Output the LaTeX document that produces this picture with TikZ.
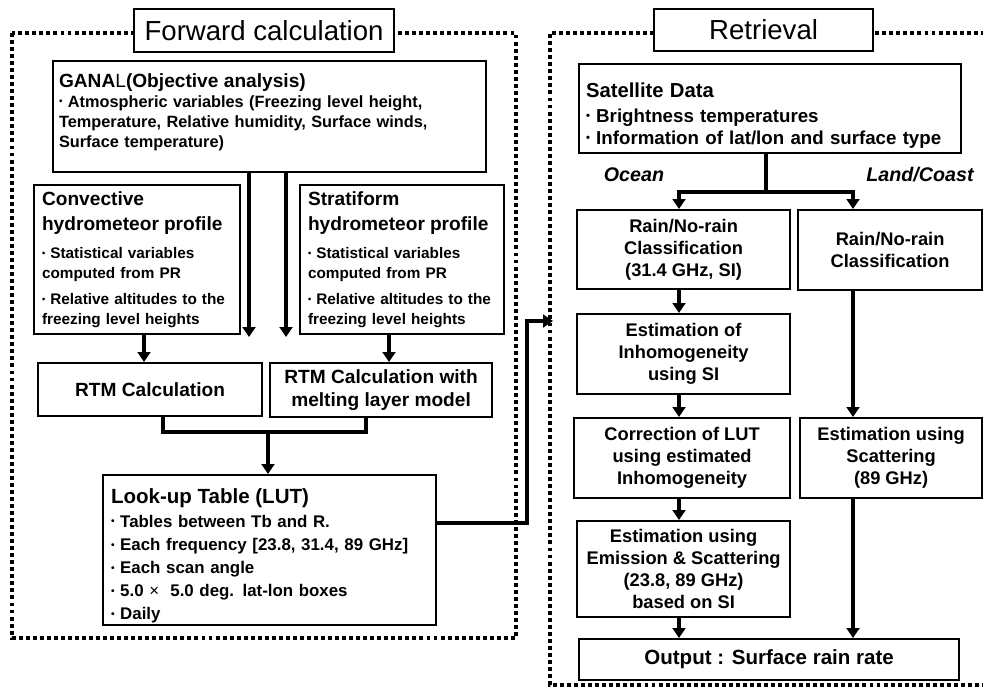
\documentclass[tikz,border=0pt]{standalone}
\usepackage{fontspec}
\usepackage{graphicx}
\setmainfont{Liberation Sans}
\usetikzlibrary{arrows.meta}

\newcommand{\fsz}[2]{\fontsize{#1}{#2}\selectfont}
\newcommand{\bul}{\raisebox{0.28ex}{\scalebox{0.6}{•}}}

\tikzset{
  blk/.style={draw, line width=1.5pt, anchor=north west, inner xsep=0.18cm, inner ysep=0pt, fill=white},
  flow/.style={line width=2.4pt, -{Triangle[length=0.25cm,width=0.32cm]}},
  link/.style={line width=2.4pt},
  frame/.style={line width=2.2pt, dash pattern=on 2.8pt off 2.2pt},
}

\begin{document}
\begin{tikzpicture}[x=0.025cm,y=-0.025cm]
\useasboundingbox (0,0) rectangle (983,687);
% dotted frames
\draw[frame] (12,33) rectangle (516,638);
\draw[frame] (1000,685) -- (550,685) -- (550,33) -- (1000,33);

% forward calculation
\node[blk, minimum width=6.5cm, minimum height=1.075cm, font=\fsz{19.6}{22}] (fwd) at (133,8) {Forward calculation};
\node[blk, text width=10.52cm, minimum height=2.775cm, align=left, inner xsep=0.15cm, font=\fsz{11.6}{14.2}\bfseries] (ganal) at (52,60)
  {{\fsz{13.6}{14.2}GANA\textmd{L}(Objective analysis)}\\
   \bul\ Atmospheric variables (Freezing level height,\\
   Temperature, Relative humidity, Surface winds,\\
   Surface temperature)\rule[-9pt]{0pt}{1pt}\par};
\node[blk, text width=4.75cm, minimum height=3.725cm, align=left, inner xsep=0.2cm, font=\fsz{10.9}{14.2}\bfseries] (conv) at (33,184)
  {{\fsz{13.6}{17.8}Convective\\hydrometeor profile\par}\vspace{6pt}
   \bul\ Statistical variables\\computed from PR\par\vspace{4pt}
   \bul\ Relative altitudes to the\\freezing level heights\par};
\node[blk, text width=4.7cm, minimum height=3.725cm, align=left, inner xsep=0.2cm, font=\fsz{10.9}{14.2}\bfseries] (strat) at (299,184)
  {{\fsz{13.6}{17.8}Stratiform\\hydrometeor profile\par}\vspace{6pt}
   \bul\ Statistical variables\\computed from PR\par\vspace{4pt}
   \bul\ Relative altitudes to the\\freezing level heights\par};
\node[blk, minimum width=5.6cm, minimum height=1.325cm, font=\fsz{13.6}{17}\bfseries] (rtm) at (37,362) {RTM Calculation};
\node[blk, minimum width=5.55cm, minimum height=1.35cm, align=center, font=\fsz{13.6}{17}\bfseries] (rtmm) at (269,362) {RTM Calculation with\\melting layer model};
\node[blk, text width=7.925cm, minimum height=3.75cm, align=left, inner xsep=0.2cm, font=\fsz{12}{16.4}\bfseries] (lut) at (102,474)
  {{\fsz{14.6}{16.4}\rule{0pt}{19pt}Look-up Table (LUT)}\\[0.5pt]
   \bul\ Tables between Tb and R.\\
   \bul\ Each frequency [23.8, 31.4, 89 GHz]\\
   \bul\ Each scan angle\\
   \bul\ 5.0 {\mdseries×}~~5.0 deg. lat-lon boxes\\
   \bul\ Daily\par};

% retrieval
\node[blk, minimum width=5.475cm, minimum height=1.05cm, font=\fsz{19.6}{22}] (ret) at (653,8) {Retrieval};
\node[blk, text width=9.2cm, minimum height=2.225cm, align=left, inner xsep=0.175cm, font=\fsz{13.3}{15.4}\bfseries] (sat) at (578,63)
  {{\fsz{14.4}{15.4}\rule{0pt}{20.5pt}Satellite Data}\\[2pt]
   \bul\ Brightness temperatures\\
   \bul\ Information of lat/lon and surface type\par};
\node[font=\fsz{14}{16}\bfseries\itshape] (ocean) at (634,175) {Ocean};
\node[font=\fsz{14}{16}\bfseries\itshape] (land) at (920,175) {Land/Coast};
\tikzset{rbox/.style={blk, align=center, minimum height=2cm, font=\fsz{13}{15.6}\bfseries}}
\node[rbox, minimum width=5.325cm, minimum height=1.975cm] (rainl) at (576,209) {Rain/No-rain\\Classification\\(31.4 GHz, SI)};
\node[rbox, minimum width=4.6cm] (rainr) at (797,209) {Rain/No-rain\\Classification};
\node[rbox, minimum width=5.325cm] (inhom) at (576,313) {Estimation of\\Inhomogeneity\\using SI};
\node[rbox, minimum width=5.4cm] (corr) at (573,417) {Correction of LUT\\using estimated\\Inhomogeneity};
\node[rbox, minimum width=5.325cm, minimum height=2.4cm] (emis) at (576,520) {Estimation using\\Emission \& Scattering\\(23.8, 89 GHz)\\based on SI};
\node[rbox, minimum width=4.55cm] (scat) at (799,417) {Estimation using\\Scattering\\(89 GHz)};
\node[blk, minimum width=9.5cm, minimum height=1.025cm, font=\fsz{14.6}{17}\bfseries] (out) at (578,638) {Output : Surface rain rate};

% connectors, forward side
\coordinate (ga) at (249,337);
\coordinate (gb) at (286,337);
\draw[flow] (ganal.south -| ga) -- (ga);
\draw[flow] (ganal.south -| gb) -- (gb);
\draw[flow] (conv.south -| 144,0) -- (rtm.north -| 144,0);
\draw[flow] (strat.south -| 389,0) -- (rtmm.north -| 389,0);
\coordinate (join) at (268,432);
\draw[link, line join=miter] (rtm.south -| 163,0) |- (join) -| (rtmm.south -| 366,0);
\draw[flow] (join) -- (lut.north -| join);
\coordinate (entry) at (553,321);
\draw[flow, line join=miter] (lut.east |- 0,523) -| (527,321) -- (entry);

% connectors, retrieval side
\coordinate (split) at (766,192);
\draw[link] (sat.south -| split) -- (split);
\draw[flow, line join=miter] (split) -| (rainl.north -| 679,0);
\draw[flow, line join=miter] (split) -| (rainr.north -| 853,0);
\draw[flow] (rainl.south -| 679,0) -- (inhom.north -| 679,0);
\draw[flow] (inhom.south -| 679,0) -- (corr.north -| 679,0);
\draw[flow] (corr.south -| 679,0) -- (emis.north -| 679,0);
\draw[flow] (emis.south -| 679,0) -- (out.north -| 679,0);
\draw[flow] (rainr.south -| 853,0) -- (scat.north -| 853,0);
\draw[flow] (scat.south -| 853,0) -- (out.north -| 853,0);
\end{tikzpicture}
\end{document}
